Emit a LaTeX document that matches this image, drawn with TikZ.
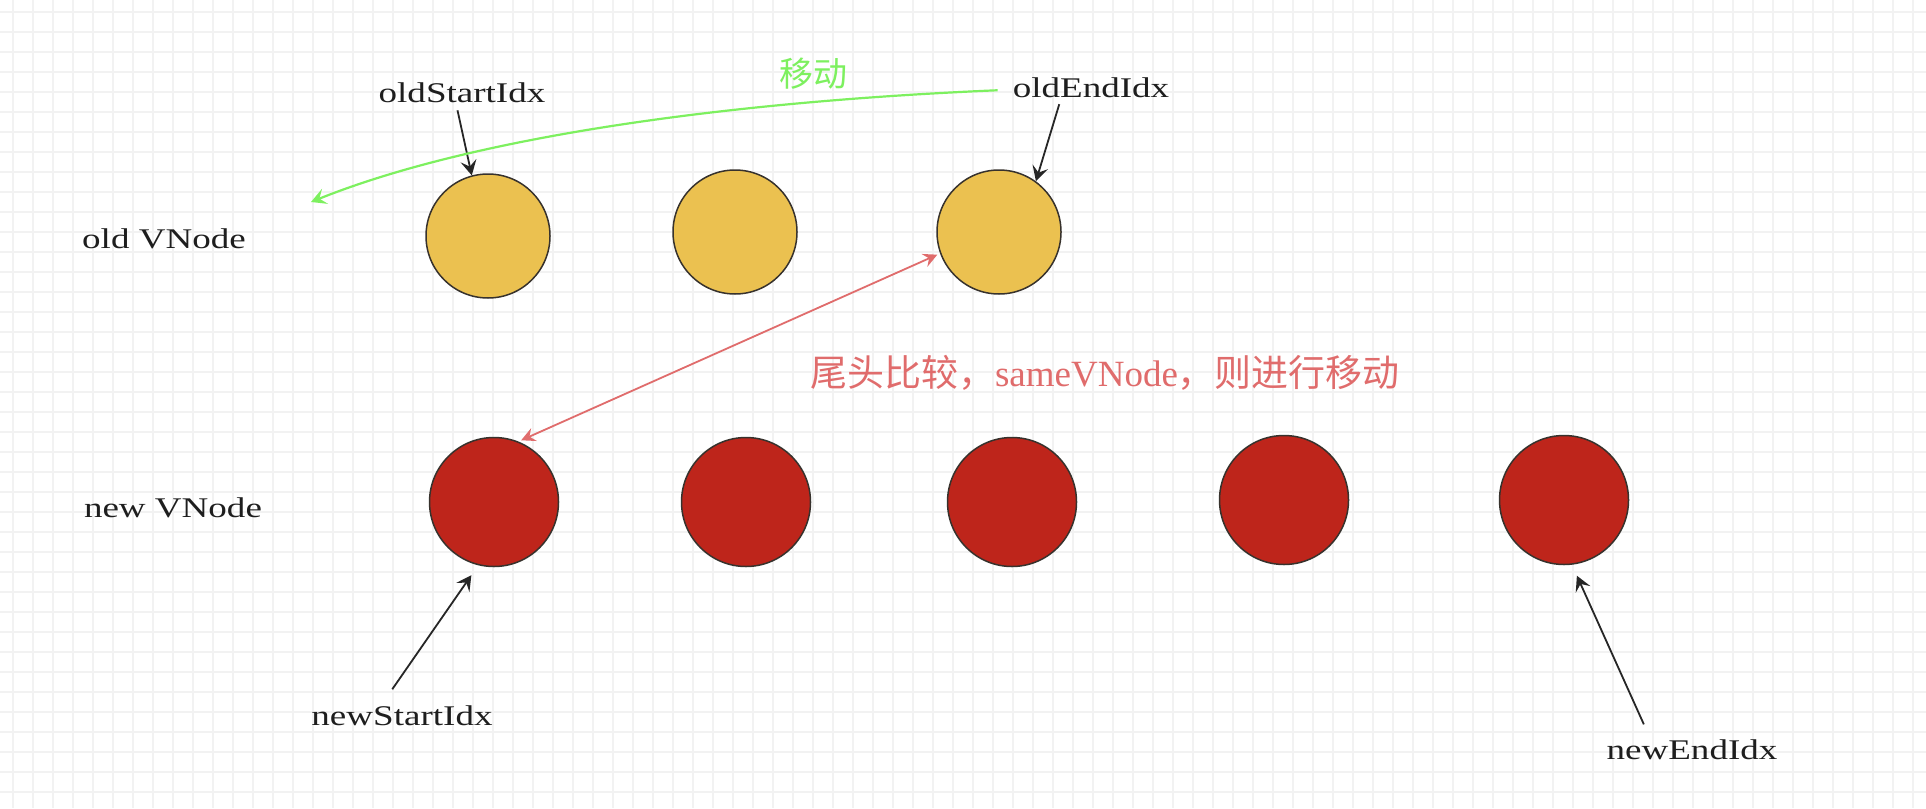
\documentclass[tikz,border=0pt]{standalone}
\usepackage{fontspec}
\setmainfont{Liberation Serif}
\newfontfamily\labelfont[FakeStretch=1.3]{Liberation Serif}
\newfontfamily\cjkfont{Noto Sans CJK SC}
\usetikzlibrary{arrows.meta}

\definecolor{gridgrey}{RGB}{242,242,242}
\definecolor{oldfill}{RGB}{235,193,80}
\definecolor{newfill}{RGB}{190,37,27}
\definecolor{nodeedge}{RGB}{55,50,45}
\definecolor{labeltext}{RGB}{30,30,30}
\definecolor{swapred}{RGB}{224,108,108}
\definecolor{movegreen}{RGB}{125,240,95}

\begin{document}
\begin{tikzpicture}[
    x=1pt, y=-1pt,
    gridline/.style={draw=gridgrey, line width=1.5pt},
    oldvnode/.style={circle, draw=nodeedge, line width=1.5pt, fill=oldfill,
        minimum size=124pt, inner sep=0pt},
    newvnode/.style={circle, draw=nodeedge, line width=1.5pt, fill=newfill,
        minimum size=129pt, inner sep=0pt},
    idxlabel/.style={font=\labelfont\fontsize{28.5}{34}\selectfont, text=labeltext,
        anchor=base, inner sep=1pt},
    pointer/.style={-{Stealth[length=15pt, width=16pt, inset=6pt]}, line width=1.8pt, draw=black!85},
    swap/.style={{Stealth[length=14pt, width=14pt, inset=5pt]}-{Stealth[length=14pt, width=14pt, inset=5pt]},
        line width=1.8pt, draw=swapred},
    move/.style={-{Stealth[length=15pt, width=16pt, inset=6pt]}, line width=2.2pt, draw=movegreen}
]
\fill[white] (0,0) rectangle (1926,808);
\useasboundingbox (0,0) rectangle (1926,808);
% background grid
\foreach \gx in {13,33,...,1913} \draw[gridline] (\gx,0) -- (\gx,808);
\foreach \gy in {12,32,...,792} \draw[gridline] (0,\gy) -- (1926,\gy);

% old and new vnodes
\node[oldvnode] (o1) at (488,236) {};
\node[oldvnode] (o2) at (735,232) {};
\node[oldvnode] (o3) at (999,232) {};
\node[newvnode] (n1) at (494,502) {};
\node[newvnode] (n2) at (746,502) {};
\node[newvnode] (n3) at (1012,502) {};
\node[newvnode] (n4) at (1284,500) {};
\node[newvnode] (n5) at (1564,500) {};

% labels
\node[idxlabel] (oldrow) at (164,248) {old VNode};
\node[idxlabel] (newrow) at (173,517) {new VNode};
\node[idxlabel] (oldStart) at (462,102) {oldStartIdx};
\node[idxlabel] (oldEnd) at (1091,97) {oldEndIdx};
\node[idxlabel] (newStart) at (402,725) {newStartIdx};
\node[idxlabel] (newEnd) at (1692,759) {newEndIdx};
\node[text=movegreen, font=\cjkfont\fontsize{34}{40}\selectfont, inner sep=1pt] (movetext) at (813,74) {移动};
\node[text=swapred, inner sep=1pt, font=\fontsize{37}{44}\selectfont] (swaptext) at (1105,373)
    {{\cjkfont 尾头比较，}sameVNode{\cjkfont ，则进行移动}};

% pointers
\draw[pointer, shorten <=7pt] ([xshift=-6pt]oldStart.south) -- (o1.105);
\draw[pointer, shorten <=6pt] ([xshift=-30pt]oldEnd.south) -- (o3.54);
\draw[pointer, shorten <=18pt, shorten >=12pt] ([xshift=-20pt]newStart.north) -- (n1.256);
\draw[pointer, shorten <=15pt, shorten >=12pt] ([xshift=-42pt]newEnd.north) -- (n5.277);
\draw[swap, shorten <=3pt, shorten >=3pt] (o3.200) -- (n1.68);
\coordinate (movetip) at (311,202);
\draw[move] ([xshift=-14pt, yshift=-3pt]oldEnd.west) .. controls (720,102) and (470,138) .. (movetip);
\end{tikzpicture}
\end{document}
